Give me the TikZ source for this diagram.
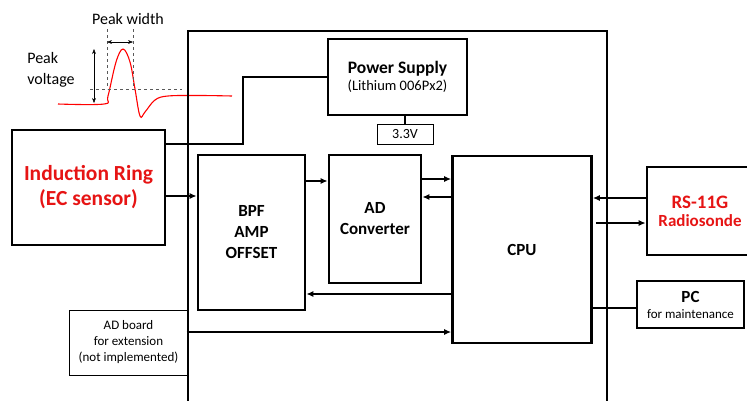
\documentclass[tikz,border=0pt]{standalone}
\usepackage{fontspec}
\setmainfont{Carlito}
\usepackage{xcolor}
\usetikzlibrary{arrows.meta, positioning, calc}
\definecolor{SondeRed}{RGB}{230, 20, 20}

\begin{document}
\begin{tikzpicture}[x=1pt, y=-1pt,
    blk/.style={draw, line width=2.6pt, align=center, inner sep=0pt},
    thinblk/.style={draw, line width=1pt, align=center, inner sep=0pt},
    arr/.style={line width=1.8pt, -{Latex[length=7pt, width=6pt]}},
    wire/.style={line width=1.5pt}]
    \useasboundingbox (0,0) rectangle (747,400);

    % --- Signal shape (top left) ---
    \draw[red, line width=1.1pt] plot[smooth, tension=0.6] coordinates
        {(58,104) (104,104) (108,96) (116,62) (123,49) (130,62) (135,89) (140,116) (145,112) (155,100) (168,96) (200,95.5) (232,96)};
    \draw[dashed, thin, gray!70!black] (90,89) -- (182,89);
    \draw[dashed, thin, gray!70!black] (107,29) -- (107,89);
    \draw[dashed, thin, gray!70!black] (133,29) -- (133,89);
    \draw[thin, {Stealth[length=5pt]}-{Stealth[length=5pt]}] (107,42) -- (133,42);
    \draw[thin, {Stealth[length=5pt]}-{Stealth[length=5pt]}] (94,49) -- (94,103);
    \node[font=\fontsize{16}{18}\selectfont] (pw) at (128,19) {Peak width};
    \node[font=\fontsize{16}{21}\selectfont, align=left] (pv) at (51,70) {Peak\\ voltage};

    % --- Board (centre) ---
    \node[draw, line width=2.8pt, minimum width=419, minimum height=389] (board) at (397.5,225.5) {};
    \node[blk, minimum width=139, minimum height=76] (ps) at (397.5,77)
        {\fontsize{17.5}{20}\selectfont\textbf{Power Supply}\\[3pt]\fontsize{14.5}{17}\selectfont(Lithium 006Px2)};
    \node[thinblk, minimum width=56, minimum height=20, font=\fontsize{14}{16}\selectfont] (volt) at (405,134) {3.3V};
    \node[blk, minimum width=107, minimum height=155, font=\fontsize{17}{21}\selectfont\bfseries] (bpf) at (251.5,232.5) {BPF\\AMP\\OFFSET};
    \node[blk, minimum width=92, minimum height=128, font=\fontsize{17}{21}\selectfont\bfseries] (adc) at (375,219) {AD\\Converter};
    \node[blk, minimum width=139, minimum height=187, font=\fontsize{17}{20}\selectfont\bfseries] (cpu) at (522,249.5) {CPU};

    % --- Outside parts ---
    \node[blk, minimum width=153, minimum height=115, text=SondeRed, font=\fontsize{21.5}{25}\selectfont\bfseries] (ring) at (88.5,187.5) {Induction Ring\\(EC sensor)};
    \node[blk, minimum width=106, minimum height=88, text=SondeRed] (rs) at (700,211)
        {\fontsize{19}{22}\selectfont\textbf{RS-11G}\\[5pt]\fontsize{17}{20}\selectfont\textbf{Radiosonde}};
    \node[blk, minimum width=107, minimum height=47] (pc) at (690.5,304.5)
        {\fontsize{17}{19}\selectfont\textbf{PC}\\[4pt]\fontsize{13}{15}\selectfont for maintenance};
    \node[thinblk, minimum width=119, minimum height=65, font=\fontsize{13}{16}\selectfont] (adb) at (128.5,342.5) {AD board\\for extension\\(not implemented)};

    % --- Connections ---
    \draw[wire] (ring.east |- 0,144) -| (243,77) -- (ps.west);
    \draw[wire] (ps.south -| volt.north) -- (volt.north);
    \draw[arr] (ring.east |- 0,196) -- (bpf.west |- 0,196);
    \draw[arr] (bpf.east |- 0,181) -- (adc.west |- 0,181);
    \draw[arr] (adc.east |- 0,179) -- (cpu.west |- 0,179);
    \draw[arr] (cpu.west |- 0,197) -- (adc.east |- 0,197);
    \draw[arr] (cpu.west |- 0,294) -- (bpf.east |- 0,294);
    \draw[arr] (board.west |- 0,332) -- (cpu.west |- 0,332);
    \draw[arr] (rs.west |- 0,198) -- (cpu.east |- 0,198);
    \draw[arr] ([xshift=3pt]cpu.east |- 0,223) -- (rs.west |- 0,223);
    \draw[wire] (cpu.east |- 0,308) -- (pc.west |- 0,308);
\end{tikzpicture}
\end{document}
